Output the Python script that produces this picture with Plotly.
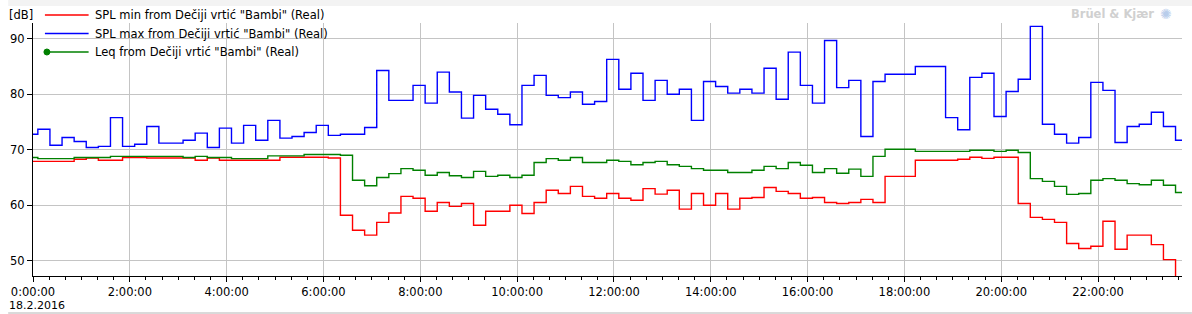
import plotly.graph_objects as go

# ---- data -------------------------------------------------------------
times = [
    "2016-02-17 23:51", "00:06", "00:21", "00:36", "00:51", "01:06", "01:21", "01:36", "01:51",
    "02:06", "02:21", "02:36", "02:51", "03:06", "03:21", "03:36", "03:51",
    "04:06", "04:21", "04:36", "04:51", "05:06", "05:21", "05:36", "05:51",
    "06:06", "06:21", "06:36", "06:51", "07:06", "07:21", "07:36", "07:51",
    "08:06", "08:21", "08:36", "08:51", "09:06", "09:21", "09:36", "09:51",
    "10:06", "10:21", "10:36", "10:51", "11:06", "11:21", "11:36", "11:51",
    "12:06", "12:21", "12:36", "12:51", "13:06", "13:21", "13:36", "13:51",
    "14:06", "14:21", "14:36", "14:51", "15:06", "15:21", "15:36", "15:51",
    "16:06", "16:21", "16:36", "16:51", "17:06", "17:21", "17:36", "18:13:30",
    "18:51", "19:06", "19:21", "19:36", "19:51", "20:06", "20:21", "20:36",
    "20:51", "21:06", "21:21", "21:36", "21:51", "22:06", "22:21", "22:36",
    "22:51", "23:06", "23:21", "23:36", "23:51",
]

spl_max = [
    72.8, 73.7, 70.8, 72.2, 71.5, 70.4, 70.6, 75.8, 70.6,
    71.0, 74.2, 71.2, 71.2, 71.7, 73.0, 70.4, 73.9,
    71.2, 74.4, 71.7, 75.3, 72.1, 72.4, 73.1, 74.4,
    72.6, 72.8, 72.8, 74.0, 84.3, 78.9, 78.9, 81.6,
    78.4, 84.0, 80.4, 75.7, 79.8, 77.3, 76.4, 74.5,
    81.6, 83.4, 79.8, 79.4, 80.4, 78.2, 78.7, 86.3,
    80.9, 83.8, 78.9, 82.5, 80.0, 80.9, 75.3, 82.3,
    81.4, 80.2, 80.9, 80.2, 84.7, 79.1, 87.6, 81.6,
    78.4, 89.7, 81.2, 82.5, 72.4, 82.3, 83.6, 85.0,
    75.8, 73.6, 83.05, 83.8, 76.0, 80.5, 82.7, 92.25,
    74.6, 72.8, 71.2, 72.2, 82.15, 80.7, 71.3, 74.2,
    74.6, 76.75, 74.2, 71.7, 71.7,
]

spl_min = [
    67.9, 67.9, 67.9, 67.9, 68.3, 68.5, 68.1, 68.1, 68.6,
    68.6, 68.5, 68.5, 68.5, 68.5, 68.1, 68.5, 68.1,
    68.1, 68.1, 68.1, 68.1, 68.65, 68.65, 68.65, 68.65,
    68.5, 58.2, 55.5, 54.6, 56.9, 58.6, 61.6, 61.25,
    58.9, 60.5, 59.8, 60.3, 56.4, 58.9, 58.9, 60.0,
    58.5, 60.5, 62.7, 62.1, 63.4, 61.6, 61.25, 62.1,
    61.25, 60.9, 63.0, 62.0, 62.7, 59.3, 62.1, 60.0,
    62.1, 59.3, 61.25, 61.4, 63.2, 62.5, 62.1, 61.25,
    61.4, 60.5, 60.3, 60.5, 61.05, 60.5, 65.2, 68.1,
    68.1, 68.3, 68.65, 68.45, 68.65, 68.65, 60.3, 57.8,
    57.45, 56.9, 53.1, 52.2, 52.6, 57.1, 52.05, 54.6,
    54.6, 52.9, 50.2, 45.0, 45.0,
]

leq = [
    68.6, 68.4, 68.4, 68.4, 68.6, 68.6, 68.6, 68.8, 68.8,
    68.8, 68.8, 68.8, 68.8, 68.6, 68.8, 68.6, 68.6,
    68.4, 68.4, 68.4, 68.9, 68.9, 68.9, 69.15, 69.15,
    69.15, 69.0, 64.5, 63.5, 65.0, 65.7, 66.6, 66.3,
    65.4, 65.9, 65.3, 65.0, 66.1, 65.2, 65.4, 65.0,
    65.4, 67.7, 68.4, 68.1, 68.6, 67.7, 67.7, 68.1,
    67.9, 67.3, 67.7, 67.9, 67.3, 67.0, 66.6, 66.3,
    66.3, 65.9, 65.9, 66.3, 67.0, 66.6, 67.7, 67.2,
    65.9, 66.6, 65.75, 66.5, 65.2, 68.8, 70.1, 69.7,
    69.7, 69.7, 69.9, 69.9, 69.7, 69.9, 69.5, 64.8,
    64.3, 63.4, 61.95, 62.1, 64.5, 64.8, 64.5, 63.9,
    63.7, 64.5, 63.6, 62.3, 62.3,
]

series_names = [
    'SPL min from Dečiji vrtić "Bambi" (Real)',
    'SPL max from Dečiji vrtić "Bambi" (Real)',
    'Leq from Dečiji vrtić "Bambi" (Real)',
]
series_colors = ["#ff0000", "#0000ff", "#008000"]
y_ticks = [50, 60, 70, 80, 90]
date_label = "18.2.2016"

# ---- build -----------------------------------------------------------
x = [t if t.startswith("2016") else "2016-02-18 " + t for t in times]

W, H = 1192, 314
L, R, T, B = 25, 10, 23, 38
pw, ph = W - L - R, H - T - B
FONT = "DejaVu Sans"
FS = 11.5

def px(xp):
    return (xp - L) / pw

def py(yp):
    return (H - B - yp) / ph

fig = go.Figure()
for vals, name, col in zip([spl_min, spl_max, leq], series_names, series_colors):
    fig.add_trace(go.Scatter(x=x, y=vals, mode="lines", line=dict(color=col, width=1.4, shape="hv"),
                             name=name, showlegend=False, cliponaxis=True))

fig.update_layout(
    width=W, height=H,
    margin=dict(l=L, r=R, t=T, b=B, pad=0),
    paper_bgcolor="white", plot_bgcolor="white",
    font=dict(family=FONT, size=FS, color="black"),
    xaxis=dict(
        type="date",
        range=["2016-02-18 00:00", "2016-02-18 23:44"],
        tickformat="%-H:%M:%S",
        dtick=2 * 3600 * 1000,
        tick0="2016-02-18 00:00",
        showgrid=True, gridcolor="#c4c4c4", gridwidth=1,
        showline=True, linecolor="black", linewidth=1,
        ticks="outside", ticklen=5, tickcolor="black",
        minor=dict(dtick=20 * 60 * 1000, ticks="outside", ticklen=3, tickcolor="black", showgrid=False),
        zeroline=False,
        tickfont=dict(family=FONT, size=FS),
    ),
    yaxis=dict(
        range=[47.24, 92.85],
        tickvals=y_ticks,
        showgrid=True, gridcolor="#c4c4c4", gridwidth=1,
        showline=True, linecolor="black", linewidth=1,
        ticks="outside", ticklen=5, tickcolor="black",
        zeroline=False,
        tickfont=dict(family=FONT, size=FS),
    ),
)

shapes = []
ann = []
# legend background
shapes.append(dict(type="rect", xref="paper", yref="paper", x0=px(26), x1=px(318), y0=py(63), y1=py(23),
                   fillcolor="white", line=dict(width=0), layer="between"))
rows_y = [15, 33.5, 52]
for i, (name, col) in enumerate(zip(series_names, series_colors)):
    yy = py(rows_y[i])
    x0 = 39 if i == 2 else 37
    shapes.append(dict(type="line", xref="paper", yref="paper", x0=px(x0), x1=px(81), y0=yy, y1=yy,
                       line=dict(color=col, width=1.4)))
    ann.append(dict(text=name, xref="paper", yref="paper", x=px(85), y=yy, xanchor="left", yanchor="middle",
                    showarrow=False, font=dict(family=FONT, size=FS, color="black")))
# green legend dot
shapes.append(dict(type="circle", xref="paper", yref="paper",
                   x0=px(36), x1=px(42), y0=py(rows_y[2] + 3), y1=py(rows_y[2] - 3),
                   fillcolor="#008000", line=dict(color="#008000", width=1)))

# [dB] unit label
ann.append(dict(text="[dB]", xref="paper", yref="paper", x=px(-1), y=py(15), xanchor="left", yanchor="middle",
                showarrow=False, font=dict(family=FONT, size=FS, color="black")))
# date under first tick label
ann.append(dict(text=date_label, xref="paper", yref="paper", x=px(-1), y=py(305), xanchor="left", yanchor="middle",
                showarrow=False, font=dict(family=FONT, size=11, color="black")))
# watermark
ann.append(dict(text="<b>Brüel & Kjær</b>", xref="paper", yref="paper", x=px(1156), y=py(14), xanchor="right",
                yanchor="middle", showarrow=False, font=dict(family=FONT, size=11.5, color="#d0d0d0")))
ann.append(dict(text="✺", xref="paper", yref="paper", x=px(1158), y=py(14), xanchor="left",
                yanchor="middle", showarrow=False, font=dict(family=FONT, size=14, color="#b9cdeb")))
# toolbar strip and bottom line
shapes.append(dict(type="rect", xref="paper", yref="paper", x0=px(0), x1=px(W), y0=py(6), y1=py(0),
                   fillcolor="#f3f3f3", line=dict(width=0), layer="below"))
shapes.append(dict(type="line", xref="paper", yref="paper", x0=px(0), x1=px(W), y0=py(313), y1=py(313),
                   line=dict(color="#b4b4b4", width=1), layer="below"))

fig.update_layout(shapes=shapes, annotations=ann)
fig.write_html("out.html")
